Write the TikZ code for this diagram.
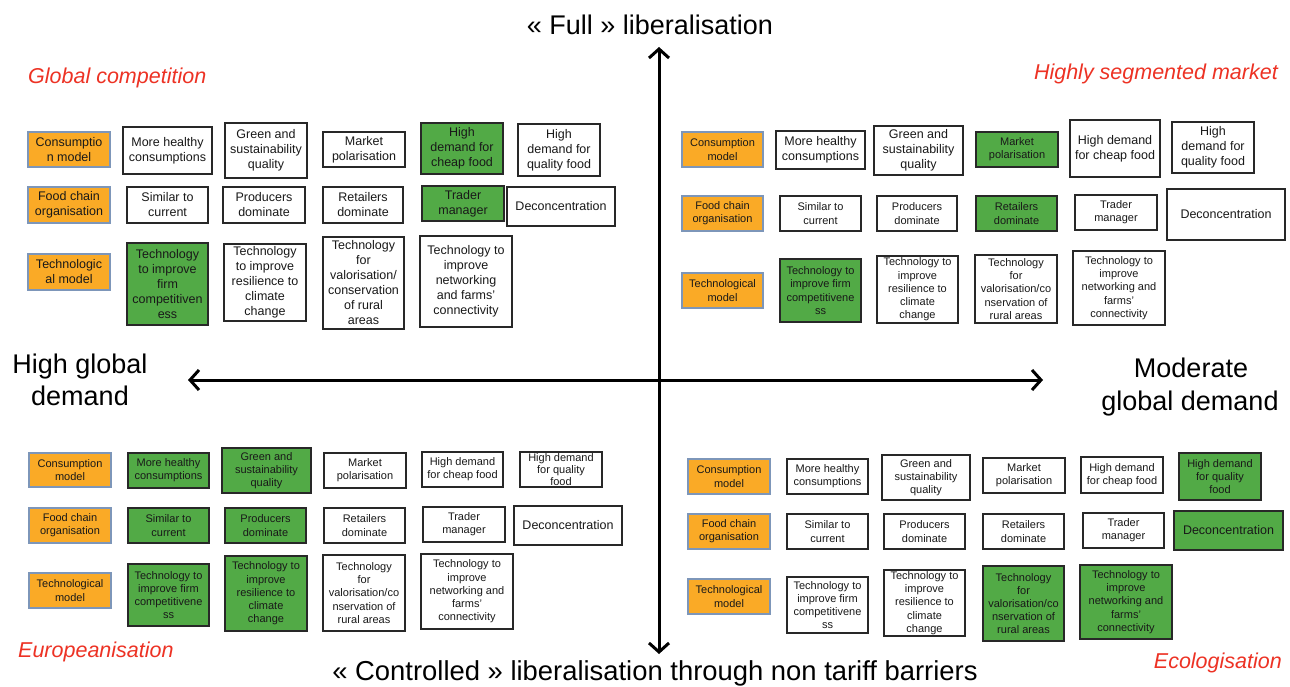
\documentclass[tikz,border=0pt]{standalone}
\usepackage{fontspec}
\setmainfont{Liberation Sans}
\usetikzlibrary{arrows.meta}
\definecolor{boxorange}{RGB}{250,170,38}
\definecolor{boxgreen}{RGB}{82,170,70}
\definecolor{scred}{RGB}{237,50,36}
\definecolor{obord}{RGB}{125,150,185}
\definecolor{kbord}{RGB}{40,40,40}
\definecolor{txt}{RGB}{25,25,25}
\newcommand\fsa{\fontsize{12.5}{15}\selectfont}
\newcommand\fsb{\fontsize{11}{13.2}\selectfont}
\newcommand\bx[7]{\node[#2, minimum width={(#5-#3)*1pt}, minimum height={(#6-#4)*1pt}] (#1) at ({(#3+#5)/2},{(#4+#6)/2}) {#7};}
\tikzset{
  basebox/.style={draw, line width=1.6pt, inner sep=0pt, align=center, text=txt, font=\fsa},
  obox/.style={basebox, fill=boxorange, draw=obord, line width=1.3pt},
  wbox/.style={basebox, fill=white, draw=kbord},
  gbox/.style={basebox, fill=boxgreen, draw=kbord},
  sm/.style={font=\fsb},
  tight/.style={font=\fontsize{11}{12}\selectfont},
  axis/.style={line width=3pt, {Straight Barb[length=9pt,width=20pt]}-{Straight Barb[length=9pt,width=20pt]}},
  axlab/.style={font=\fontsize{27}{32}\selectfont, text=black, inner sep=0pt},
  scen/.style={font=\fontsize{21.5}{26}\selectfont\itshape, text=scred, inner sep=0pt}
}
\begin{document}
\begin{tikzpicture}[x=1pt,y=-1pt]
\useasboundingbox (0,0) rectangle (1290,687);
\fill[white] (0,0) rectangle (1290,687);
% axes
\coordinate (vt) at (659,47);
\coordinate (vb) at (659,654);
\coordinate (hl) at (188,380);
\coordinate (hr) at (1043,380);
\draw[axis] (vt) -- (vb);
\draw[axis] (hl) -- (hr);
% axis labels
\node[axlab, anchor=base] (ltop) at (650,35) {« Full » liberalisation};
\node[axlab, anchor=base, font=\fontsize{27.4}{32}\selectfont] (lbot) at (655,680) {« Controlled » liberalisation through non tariff barriers};
\node[axlab, anchor=base] (lleft1) at (80,373) {High global};
\node[axlab, anchor=base] (lleft2) at (80,405) {demand};
\node[axlab, anchor=base] (lright1) at (1191,377) {Moderate};
\node[axlab, anchor=base] (lright2) at (1190,410) {global demand};
% scenario names
\node[scen, anchor=base west] (s1) at (28,84) {Global competition};
\node[scen, anchor=base east] (s2) at (1278,80) {Highly segmented market};
\node[scen, anchor=base west] (s3) at (18,657) {Europeanisation};
\node[scen, anchor=base east] (s4) at (1282,668) {Ecologisation};
% top-left
\bx{tlc}{obox}{28}{132}{110}{167}{Consumptio\\n model}
\bx{tlc1}{wbox}{123}{127}{212}{174}{More healthy\\consumptions}
\bx{tlc2}{wbox}{225}{123}{307}{178}{Green and\\sustainability\\quality}
\bx{tlc3}{wbox}{323}{132}{405}{167}{Market\\polarisation}
\bx{tlc4}{gbox}{421}{123}{503}{174}{High\\demand for\\cheap food}
\bx{tlc5}{wbox}{518}{124}{600}{176}{High\\demand for\\quality food}
\bx{tlf}{obox}{28}{187}{110}{223}{Food chain\\organisation}
\bx{tlf1}{wbox}{127}{187}{208}{223}{Similar to\\current}
\bx{tlf2}{wbox}{223}{187}{305}{223}{Producers\\dominate}
\bx{tlf3}{wbox}{323}{187}{403}{223}{Retailers\\dominate}
\bx{tlf4}{gbox}{422}{186}{504}{221}{Trader\\manager}
\bx{tlf5}{wbox}{507}{187}{615}{226}{Deconcentration}
\bx{tlt}{obox}{28}{254}{110}{290}{Technologic\\al model}
\bx{tlt1}{gbox}{127}{243}{208}{325}{Technology\\to improve\\firm\\competitiven\\ess}
\bx{tlt2}{wbox}{224}{244}{306}{321}{Technology\\to improve\\resilience to\\climate\\change}
\bx{tlt3}{wbox}{323}{237}{404}{329}{Technology\\for\\valorisation/\\conservation\\of rural\\areas}
\bx{tlt4}{wbox}{420}{236}{512}{327}{Technology to\\improve\\networking\\and farms'\\connectivity}
% top-right
\bx{trc}{obox,sm}{682}{132}{763}{167}{Consumption\\model}
\bx{trc1}{wbox}{776}{131}{865}{169}{More healthy\\consumptions}
\bx{trc2}{wbox}{874}{126}{963}{175}{Green and\\sustainability\\quality}
\bx{trc3}{gbox,sm}{976}{132}{1058}{167}{Market\\polarisation}
\bx{trc4}{wbox}{1070}{120}{1160}{177}{High demand\\for cheap food}
\bx{trc5}{wbox}{1172}{122}{1254}{173}{High\\demand for\\quality food}
\bx{trf}{obox,sm}{682}{196}{763}{231}{Food chain\\organisation}
\bx{trf1}{wbox,sm}{780}{196}{861}{231}{Similar to\\current}
\bx{trf2}{wbox,sm}{877}{196}{957}{231}{Producers\\dominate}
\bx{trf3}{gbox,sm}{976}{196}{1057}{231}{Retailers\\dominate}
\bx{trf4}{wbox,sm}{1075}{195}{1157}{230}{Trader\\manager}
\bx{trf5}{wbox}{1167}{189}{1285}{240}{Deconcentration}
\bx{trt}{obox,sm}{682}{273}{763}{308}{Technological\\model}
\bx{trt1}{gbox,sm}{780}{259}{861}{322}{Technology to\\improve firm\\competitivene\\ss}
\bx{trt2}{wbox,sm}{877}{256}{958}{323}{Technology to\\improve\\resilience to\\climate\\change}
\bx{trt3}{wbox,sm}{975}{255}{1057}{323}{Technology\\for\\valorisation/co\\nservation of\\rural areas}
\bx{trt4}{wbox,sm}{1073}{251}{1165}{325}{Technology to\\improve\\networking and\\farms'\\connectivity}
% bottom-left
\bx{blc}{obox,sm}{29}{453}{111}{487}{Consumption\\model}
\bx{blc1}{gbox,sm}{128}{453}{209}{488}{More healthy\\consumptions}
\bx{blc2}{gbox,sm}{222}{448}{311}{493}{Green and\\sustainability\\quality}
\bx{blc3}{wbox,sm}{324}{453}{406}{488}{Market\\polarisation}
\bx{blc4}{wbox,sm}{422}{452}{503}{487}{High demand\\for cheap food}
\bx{blc5}{wbox,tight}{520}{452}{602}{487}{High demand\\for quality\\food}
\bx{blf}{obox,sm}{29}{508}{111}{543}{Food chain\\organisation}
\bx{blf1}{gbox,sm}{128}{508}{209}{543}{Similar to\\current}
\bx{blf2}{gbox,sm}{225}{508}{306}{543}{Producers\\dominate}
\bx{blf3}{wbox,sm}{324}{508}{405}{543}{Retailers\\dominate}
\bx{blf4}{wbox,sm}{423}{507}{505}{542}{Trader\\manager}
\bx{blf5}{wbox}{514}{506}{622}{545}{Deconcentration}
\bx{blt}{obox,sm}{29}{573}{111}{608}{Technological\\model}
\bx{blt1}{gbox,sm}{128}{564}{209}{626}{Technology to\\improve firm\\competitivene\\ss}
\bx{blt2}{gbox,sm}{225}{556}{307}{631}{Technology to\\improve\\resilience to\\climate\\change}
\bx{blt3}{wbox,sm}{323}{555}{405}{631}{Technology\\for\\valorisation/co\\nservation of\\rural areas}
\bx{blt4}{wbox,sm}{421}{554}{513}{629}{Technology to\\improve\\networking and\\farms'\\connectivity}
% bottom-right
\bx{brc}{obox,sm}{688}{459}{770}{494}{Consumption\\model}
\bx{brc1}{wbox,sm}{787}{459}{868}{494}{More healthy\\consumptions}
\bx{brc2}{wbox,sm}{882}{455}{970}{500}{Green and\\sustainability\\quality}
\bx{brc3}{wbox,sm}{983}{458}{1065}{493}{Market\\polarisation}
\bx{brc4}{wbox,sm}{1081}{457}{1163}{493}{High demand\\for cheap food}
\bx{brc5}{gbox,sm}{1179}{453}{1261}{500}{High demand\\for quality\\food}
\bx{brf}{obox,sm}{688}{514}{770}{549}{Food chain\\organisation}
\bx{brf1}{wbox,sm}{787}{514}{868}{549}{Similar to\\current}
\bx{brf2}{wbox,sm}{884}{514}{965}{549}{Producers\\dominate}
\bx{brf3}{wbox,sm}{983}{514}{1064}{549}{Retailers\\dominate}
\bx{brf4}{wbox,sm}{1083}{513}{1164}{548}{Trader\\manager}
\bx{brf5}{gbox}{1174}{511}{1283}{550}{Deconcentration}
\bx{brt}{obox,sm}{688}{579}{770}{614}{Technological\\model}
\bx{brt1}{wbox,sm}{787}{577}{868}{633}{Technology to\\improve firm\\competitivene\\ss}
\bx{brt2}{wbox,sm}{884}{570}{965}{636}{Technology to\\improve\\resilience to\\climate\\change}
\bx{brt3}{gbox,sm}{983}{566}{1064}{641}{Technology\\for\\valorisation/co\\nservation of\\rural areas}
\bx{brt4}{gbox,sm}{1080}{565}{1172}{639}{Technology to\\improve\\networking and\\farms'\\connectivity}
\end{tikzpicture}
\end{document}
